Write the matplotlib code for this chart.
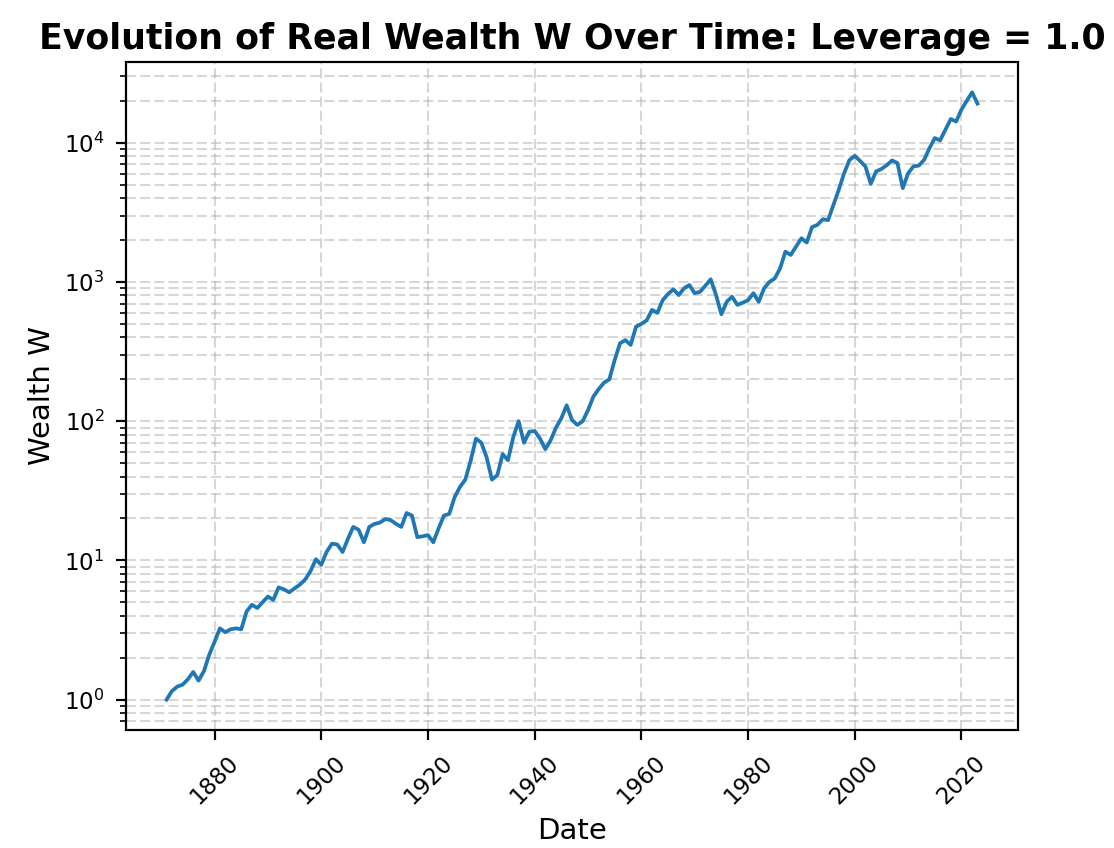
import matplotlib
matplotlib.use("Agg")
import matplotlib.pyplot as plt
from matplotlib.ticker import MultipleLocator

years = list(range(1871, 2024))
wealth = [
    1.0, 1.15, 1.24, 1.28, 1.4, 1.58, 1.37, 1.6, 2.1, 2.6,          # 1871-1880
    3.25, 3.05, 3.2, 3.25, 3.2, 4.3, 4.8, 4.55, 5.0, 5.5,           # 1881-1890
    5.2, 6.4, 6.2, 5.9, 6.3, 6.7, 7.3, 8.4, 10.2, 9.3,              # 1891-1900
    11.5, 13.2, 13.0, 11.5, 14.3, 17.4, 16.6, 13.5, 17.4, 18.3,     # 1901-1910
    18.7, 19.8, 19.5, 18.3, 17.4, 21.9, 21.0, 14.7, 14.9, 15.2,     # 1911-1920
    13.5, 17.0, 21.0, 21.6, 28.5, 33.7, 38.0, 52.0, 75.0, 70.0,     # 1921-1930
    55.0, 38.0, 41.0, 58.0, 52.5, 77.0, 100.0, 70.0, 84.0, 85.0,    # 1931-1940
    75.0, 63.0, 73.0, 90.0, 105.0, 130.0, 102.0, 94.0, 100.0, 120.0,  # 1941-1950
    150.0, 170.0, 189.0, 200.0, 275.0, 363.0, 382.0, 353.0, 477.0, 500.0,  # 1951-1960
    530.0, 630.0, 600.0, 740.0, 820.0, 885.0, 805.0, 900.0, 950.0, 830.0,  # 1961-1970
    850.0, 940.0, 1045.0, 805.0, 586.0, 721.0, 783.0, 684.0, 710.0, 740.0,  # 1971-1980
    830.0, 720.0, 900.0, 1000.0, 1060.0, 1250.0, 1650.0, 1564.0, 1795.0, 2060.0,  # 1981-1990
    1920.0, 2480.0, 2570.0, 2820.0, 2780.0, 3580.0, 4590.0, 6030.0, 7500.0, 8050.0,  # 1991-2000
    7400.0, 6760.0, 5070.0, 6220.0, 6480.0, 6900.0, 7460.0, 7150.0, 4720.0, 6030.0,  # 2001-2010
    6760.0, 6850.0, 7530.0, 9130.0, 10800.0, 10400.0, 12400.0, 14800.0, 14200.0, 17300.0,  # 2011-2020
    20000.0, 23000.0, 19100.0,                                       # 2021-2023
]

fig = plt.figure(figsize=(1114 / 150, 848 / 150), dpi=150)
ax = fig.add_axes([126 / 1114, 1 - 730 / 848, (1018 - 126) / 1114, (730 - 62) / 848])

ax.plot(years, wealth, color="C0", linewidth=1.8)
ax.set_yscale("log")
ax.xaxis.set_major_locator(MultipleLocator(20))
ax.grid(True, which="both", linestyle=(0, (4.8, 2.0)), linewidth=1.0, alpha=0.5)
ax.set_title("Evolution of Real Wealth W Over Time: Leverage = 1.0",
             fontsize=16.7, fontweight="bold")
ax.set_xlabel("Date", fontsize=14)
ax.set_ylabel("Wealth W", fontsize=14)
ax.tick_params(which="major", labelsize=11, length=4.8, width=1.05, pad=5.5)
ax.tick_params(which="minor", length=3.0, width=0.8)
for s in ax.spines.values():
    s.set_linewidth(1.05)
plt.setp(ax.get_xticklabels(), rotation=45)

fig.savefig("out.png", dpi=150)
